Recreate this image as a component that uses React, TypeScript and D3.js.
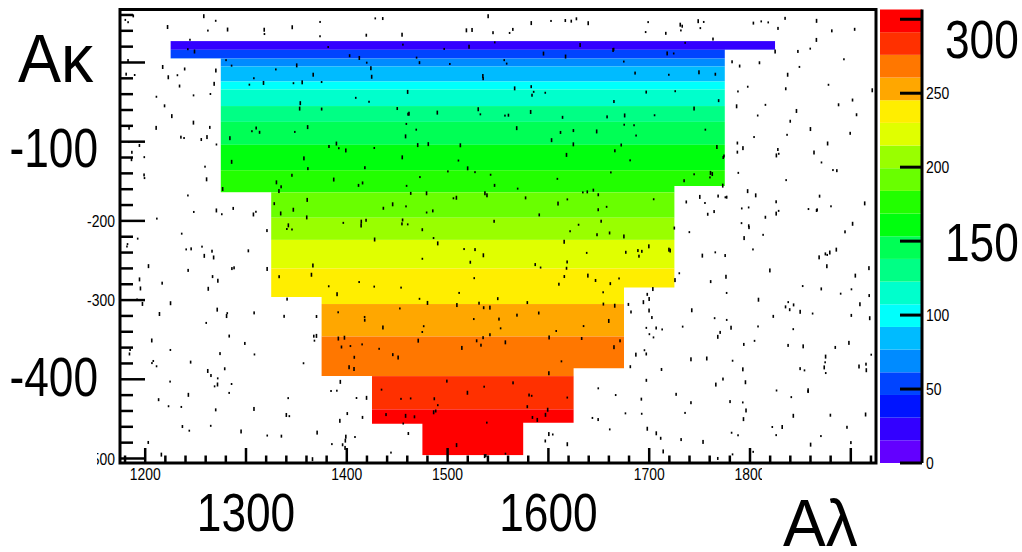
import React from "react";
import * as d3 from "d3";

// ---- data ----
// colour rows of the 2D histogram: top edge (y value) and content (z)
const rowTop = [27, 16, 5, -5, -24, -34, -55, -75, -104, -136, -164, -196, -224, -260, -305, -346, -396, -438];
const rowBottomEnd = -496;
const rowZ = [23, 54, 69, 84, 100, 115, 130, 146, 161, 176, 192, 207, 222, 238, 253, 268, 284, 299];

// staircase outline of the filled region
const stairTop = 27;
const leftX = [1225, 1275, 1325, 1375, 1425, 1475];
const leftBottom = [5, -164, -296, -396, -456, -496];
const rightX = [1825, 1775, 1725, 1675, 1625, 1575];
const rightBottom = [16, -156, -284, -386, -455, -496];

// axis ticks / labels
const xSmallLabels = [1200, 1400, 1500, 1700, 1800, 1900];
const xBigLabels = [1300, 1600];
const ySmallLabels = [-200, -300, -500];
const yBigLabels = [-100, -400];
const zSmallLabels = [0, 50, 100, 200, 250];
const zBigLabels = [150, 300];
const zTicks = [0, 50, 100, 150, 200, 250, 300];

const X_DOMAIN = [1175, 1925];
const Y_DOMAIN = [-505.7, 66.9];
const Z_MAX = 306.6;
const N_CONT = 20;

const FONT = "'Liberation Sans', Arial, sans-serif";
const SX = 0.82; // condensed look of the reference text

// ROOT "pretty" palette (violet -> red, HLS with 50 colours)
function contourColor(j: number) {
  const idx = Math.floor(((j + 0.99) * 50) / N_CONT);
  const hue = 280 - (idx + 1) * (280 / 50);
  return d3.hsl(hue, 1, 0.5).formatHex();
}

// deterministic texture dots (decorative)
function makeDots(n: number) {
  let s = 12345;
  const rnd = () => {
    s = (s * 1103515245 + 12345) % 2147483648;
    return s / 2147483648;
  };
  const out: { x: number; y: number; h: number }[] = [];
  for (let i = 0; i < n; i++) out.push({ x: rnd(), y: rnd(), h: 2 + Math.floor(rnd() * 3) });
  return out;
}
const dots = makeDots(680);

type TProps = {
  x: number; y: number; size: number; anchor?: "start" | "middle" | "end";
  central?: boolean; sx?: number; clip?: string; children: React.ReactNode;
};
function T({ x, y, size, anchor = "start", central = false, sx = SX, clip, children }: TProps) {
  return (
    <g clipPath={clip}>
      <text transform={`translate(${x},${y}) scale(${sx},1)`} fontSize={size} textAnchor={anchor}
        dominantBaseline={central ? "central" : undefined}>{children}</text>
    </g>
  );
}

export default function App() {
  const L = 120, R = 876, TOP = 9.5, B = 463;
  const x = d3.scaleLinear().domain(X_DOMAIN).range([L, R]);
  const y = d3.scaleLinear().domain(Y_DOMAIN).range([B, TOP]);
  const z = d3.scaleLinear().domain([0, Z_MAX]).range([B, TOP]);
  const dz = Z_MAX / N_CONT;
  const colorOf = (v: number) => contourColor(Math.min(N_CONT - 1, Math.floor(v / dz)));

  // staircase polygon
  const pts: [number, number][] = [];
  pts.push([leftX[0], stairTop], [rightX[0], stairTop]);
  for (let i = 0; i < rightX.length; i++) {
    pts.push([rightX[i], rightBottom[i]]);
    if (i + 1 < rightX.length) pts.push([rightX[i + 1], rightBottom[i]]);
  }
  for (let i = leftX.length - 1; i >= 0; i--) {
    pts.push([leftX[i], leftBottom[i]]);
    if (i - 1 >= 0) pts.push([leftX[i], leftBottom[i - 1]]);
  }
  const poly = pts.map(([a, b]) => `${x(a)},${y(b)}`).join(" ");

  const yMinor = d3.range(60, -501, -20);
  const xMinor = d3.range(1180, 1921, 20);

  return (
    <svg width={1022} height={552} style={{ position: "absolute", left: 0, top: 0, background: "#fff" }}>
      <defs>
        <clipPath id="stairs">
          <polygon points={poly} />
        </clipPath>
        <clipPath id="clip500">
          <rect x={97} y={440} width={40} height={40} />
        </clipPath>
        <clipPath id="clip1800">
          <rect x={700} y={464} width={62} height={30} />
        </clipPath>
        <clipPath id="clip1900">
          <rect x={820} y={464} width={60} height={3.5} />
        </clipPath>
        <clipPath id="plotArea">
          <rect x={L} y={TOP} width={R - L} height={B - TOP} />
        </clipPath>
      </defs>
      <rect x={0} y={0} width={1022} height={552} fill="#fff" />

      {/* histogram rows */}
      <g clipPath="url(#stairs)">
        {rowTop.map((t, i) => {
          const b = i + 1 < rowTop.length ? rowTop[i + 1] : rowBottomEnd;
          return (
            <rect key={i} x={x(leftX[0])} y={y(t)} width={x(rightX[0]) - x(leftX[0])} height={y(b) - y(t)}
              fill={colorOf(rowZ[i])} />
          );
        })}
      </g>

      {/* texture dots */}
      <g clipPath="url(#plotArea)" fill="#000">
        {dots.map((d, i) => (
          <rect key={i} x={L + 4 + d.x * (R - L - 8)} y={TOP + 4 + d.y * (B - TOP - 8)} width={1.6} height={d.h} />
        ))}
      </g>

      {/* ticks */}
      <g stroke="#000" strokeWidth={2.5}>
        {yMinor.map((v) => {
          const major = v % 100 === 0;
          return <line key={v} x1={L} x2={L + (major ? 25 : 13)} y1={y(v)} y2={y(v)} />;
        })}
        {xMinor.map((v) => {
          const major = v % 100 === 0;
          return <line key={v} x1={x(v)} x2={x(v)} y1={B} y2={B - (major ? 15 : 7.5)} />;
        })}
      </g>

      {/* frame */}
      <rect x={L} y={TOP} width={R - L} height={B - TOP} fill="none" stroke="#000" strokeWidth={3} />

      {/* colour bar */}
      {d3.range(N_CONT).map((j) => (
        <rect key={j} x={880} y={z((j + 1) * dz)} width={42} height={z(j * dz) - z((j + 1) * dz)} fill={contourColor(j)} />
      ))}
      <line x1={922} x2={922} y1={TOP} y2={B} stroke="#000" strokeWidth={3} />
      <g stroke="#000" strokeWidth={3}>
        {zTicks.map((v) => (
          <line key={v} x1={900} x2={922} y1={z(v)} y2={z(v)} />
        ))}
      </g>

      {/* text */}
      <g fontFamily={FONT} fill="#000">
        <T x={18} y={82} size={68} sx={0.95}>Aκ</T>
        <T x={783} y={546} size={66} sx={0.97}>Aλ</T>

        {yBigLabels.map((v, i) => (
          <T key={v} x={98} y={i === 0 ? 148 : 377} size={56} sx={0.79} anchor="end" central>{`-${Math.abs(v)}`}</T>
        ))}
        {ySmallLabels.map((v) => (
          <T key={v} x={115} y={y(v)} size={17} anchor="end" central
            clip={v === -500 ? "url(#clip500)" : undefined}>{`-${Math.abs(v)}`}</T>
        ))}

        {xSmallLabels.map((v) => (
          <T key={v} x={x(v)} y={480} size={17} anchor="middle"
            clip={v === 1800 ? "url(#clip1800)" : v === 1900 ? "url(#clip1900)" : undefined}>{v}</T>
        ))}
        {xBigLabels.map((v) => (
          <T key={v} x={x(v)} y={512} size={54} anchor="middle" central>{v}</T>
        ))}

        {zSmallLabels.map((v) => (
          <T key={v} x={926} y={z(v)} size={17} central>{v}</T>
        ))}
        {zBigLabels.map((v) => (
          <T key={v} x={945} y={v === 300 ? 39 : 242} size={54} central>{v}</T>
        ))}
      </g>
    </svg>
  );
}
